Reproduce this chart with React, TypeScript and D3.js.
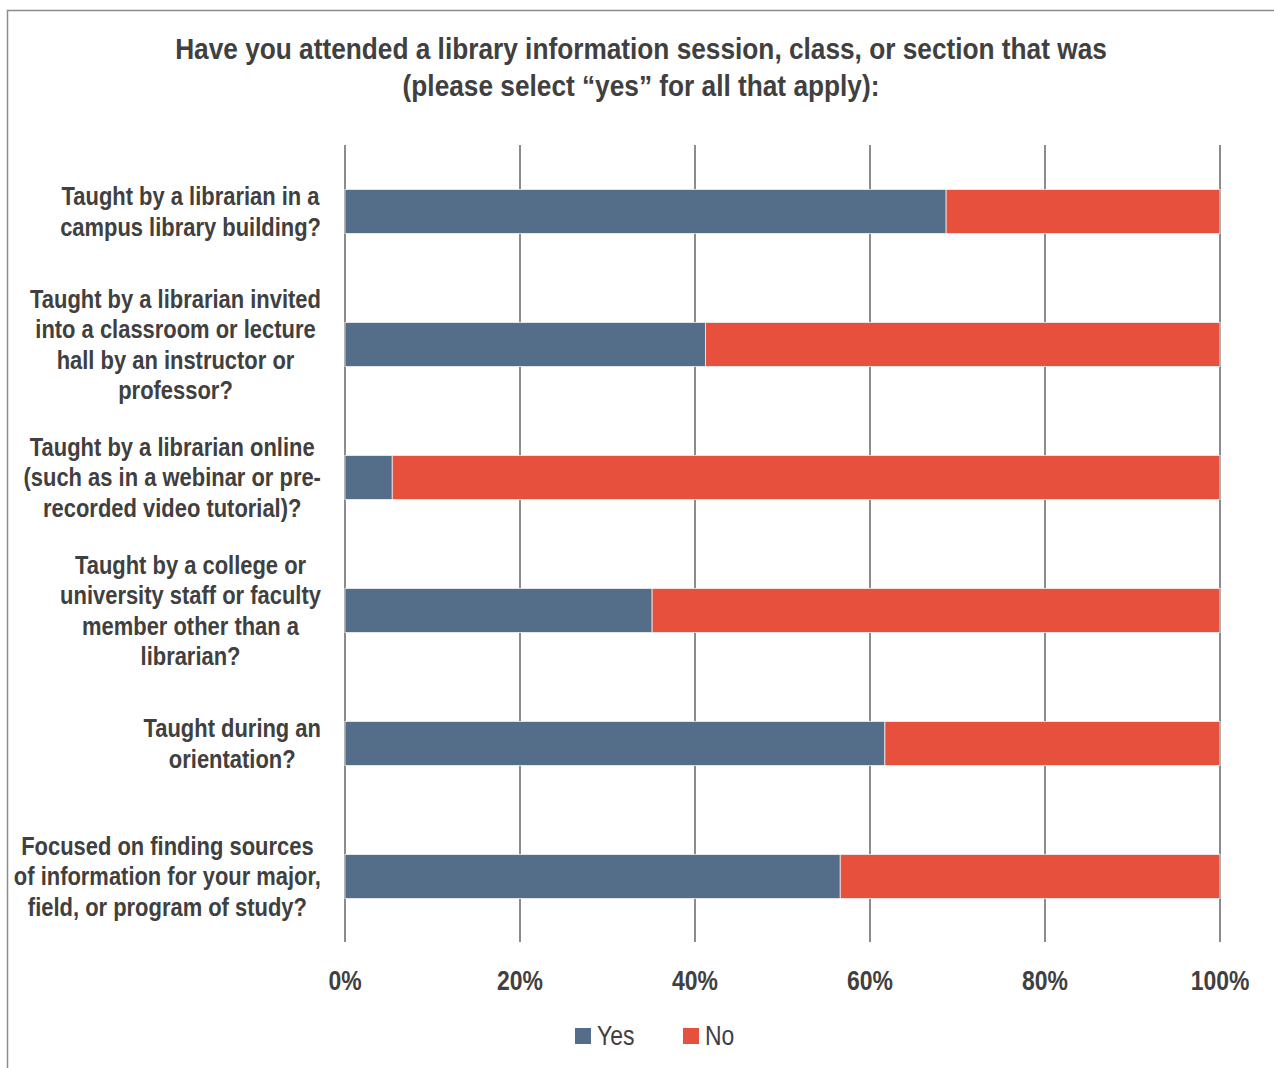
import React, { useEffect, useRef } from "react";
import * as d3 from "d3";

const titleLines = [
  "Have you attended a library information session, class, or section that was",
  "(please select \u201cyes\u201d for all that apply):",
];
const categories = [
  ["Taught by a librarian in a", "campus library building?"],
  ["Taught by a librarian invited", "into a classroom or lecture", "hall by an instructor or", "professor?"],
  ["Taught by a librarian online", "(such as in a webinar or pre-", "recorded video tutorial)?"],
  ["Taught by a college or", "university staff or faculty", "member other than a", "librarian?"],
  ["Taught during an", "orientation?"],
  ["Focused on finding sources", "of information for your major,", "field, or program of study?"],
];
const yesValues = [68.7, 41.2, 5.4, 35.1, 61.7, 56.6];
const noValues = yesValues.map((v) => 100 - v);
const tickValues = [0, 20, 40, 60, 80, 100];
const seriesNames = ["Yes", "No"];
const seriesColors = ["#546E8A", "#E8503E"];

const FONT = "'Liberation Sans', Arial, sans-serif";
const TXT = "#404040";
const SX = 0.82;

export default function App() {
  const ref = useRef<SVGSVGElement>(null);
  useEffect(() => {
    const svg = d3.select(ref.current);
    svg.selectAll("*").remove();
    const left = 345, right = 1220, top = 145, bottom = 943;
    const x = d3.scaleLinear().domain([0, 100]).range([left, right]);
    const y = d3.scaleBand().domain(categories.map((_, i) => String(i))).range([top, bottom]).paddingInner(0.67).paddingOuter(0.335);

    svg.append("rect").attr("x", 7.5).attr("y", 10.5).attr("width", 1300).attr("height", 1100)
      .attr("fill", "#fff").attr("stroke", "#8c8c8c").attr("stroke-width", 1.5);

    const narrowText = (px: number, py: number, size: number, bold: boolean, anchor: string, str: string, sx = SX) =>
      svg.append("text").attr("transform", `translate(${px},${py}) scale(${sx},1)`)
        .attr("font-family", FONT).attr("font-weight", bold ? "bold" : "normal")
        .attr("font-size", size).attr("fill", TXT).attr("text-anchor", anchor).text(str);

    // title
    titleLines.forEach((l, i) => narrowText(641, 59 + i * 37, 30, true, "middle", l, 0.875));

    // gridlines
    svg.append("g").selectAll("line").data(tickValues).join("line")
      .attr("x1", (d) => x(d)).attr("x2", (d) => x(d)).attr("y1", top).attr("y2", 942)
      .attr("stroke", "#8c8c8c").attr("stroke-width", 2);

    // bars
    const bh = y.bandwidth();
    categories.forEach((_, i) => {
      const segs = [
        { s: 0, x0: 0, x1: yesValues[i] },
        { s: 1, x0: yesValues[i], x1: yesValues[i] + noValues[i] },
      ];
      svg.append("g").selectAll("rect").data(segs).join("rect")
        .attr("x", (d) => x(d.x0)).attr("width", (d) => x(d.x1) - x(d.x0))
        .attr("y", y(String(i))!).attr("height", bh)
        .attr("fill", (d) => seriesColors[d.s]).attr("stroke", "#eeeeee").attr("stroke-width", 0.8);
    });

    // x tick labels
    tickValues.forEach((d) => narrowText(x(d), 990, 28, true, "middle", d + "%"));

    // category labels
    const lh = 30.5;
    const LSX = 0.844;
    categories.forEach((lines, i) => {
      const cy = y(String(i))! + bh / 2;
      const n = lines.length;
      const g = svg.append("g");
      const t = g.append("text").attr("font-family", FONT).attr("font-weight", "bold")
        .attr("font-size", 26).attr("fill", TXT).attr("text-anchor", "middle");
      const spans = lines.map((l, k) =>
        t.append("tspan").attr("x", 0).attr("y", cy + (k - (n - 1) / 2) * lh + 9).text(l)
      );
      const maxW = (d3.max(spans, (s) => (s.node() as SVGTSpanElement).getComputedTextLength()) || 0) * LSX;
      const cx = 321 - maxW / 2;
      g.attr("transform", `translate(${cx},0) scale(${LSX},1)`);
    });

    // legend
    const items = [{ x: 575, t: seriesNames[0], c: seriesColors[0] }, { x: 683, t: seriesNames[1], c: seriesColors[1] }];
    items.forEach((it) => {
      svg.append("rect").attr("x", it.x).attr("y", 1028).attr("width", 16).attr("height", 16).attr("fill", it.c);
      narrowText(it.x + 22, 1045, 28, false, "start", it.t);
    });
  }, []);
  return (
    <svg ref={ref} width={1274} height={1068}
      style={{ position: "absolute", left: 0, top: 0, background: "#fff" }} />
  );
}
